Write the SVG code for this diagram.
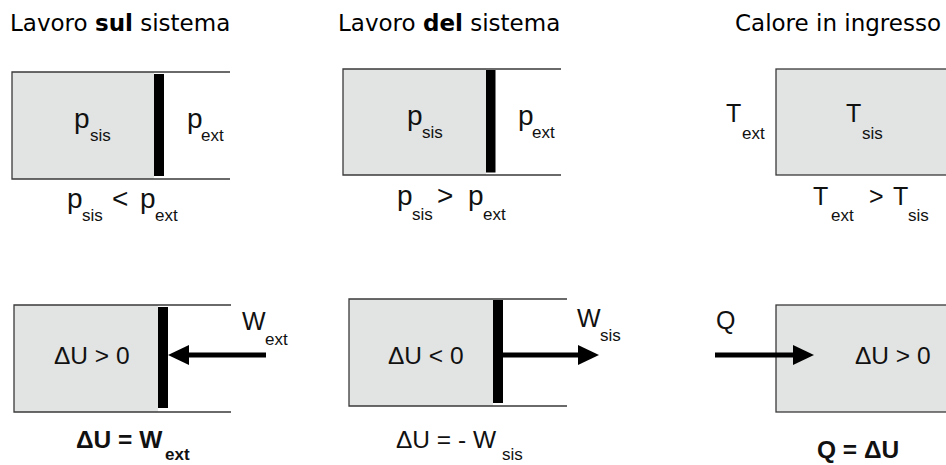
<svg xmlns="http://www.w3.org/2000/svg" width="946" height="465" viewBox="0 0 946 465">
  <style>
    .title { font-family: "Comic Sans MS", "DejaVu Sans", sans-serif; font-size: 23px; fill: #000; }
    .t { font-family: "Liberation Sans", Arial, sans-serif; fill: #111; }
    .big { font-size: 28px; }
    .mid { font-size: 25px; }
    .lab { font-size: 24.5px; }
    .sub { font-size: 17px; }
    .bold { font-weight: bold; }
    .gas { fill: #e2e3e3; stroke: none; }
    .wall { fill: none; stroke: #3a3a3a; stroke-width: 1.3; }
    .piston { fill: #000; }
    .arrow { stroke: #000; stroke-width: 5; fill: none; marker-end: url(#head); }
  </style>
  <defs>
    <marker id="head" markerUnits="userSpaceOnUse" markerWidth="21" markerHeight="21" refX="0" refY="10" orient="auto" viewBox="0 0 21 21">
      <path d="M0,0 L21,10 L0,20 z" fill="#000"/>
    </marker>
  </defs>
  <rect width="946" height="465" fill="#fff"/>

  <!-- headings -->
  <g id="headings">
    <text class="title" x="10" y="31">Lavoro <tspan font-weight="bold">sul</tspan> sistema</text>
    <text class="title" x="338" y="31">Lavoro <tspan font-weight="bold">del</tspan> sistema</text>
    <text class="title" x="735" y="31">Calore in ingresso</text>
  </g>

  <!-- work done on the system: compression -->
  <g id="cyl-compress">
    <rect class="gas" x="12" y="72" width="142" height="107"/>
    <path class="wall" d="M230,72 H12 V179 H230"/>
    <rect class="piston" x="154" y="74" width="10" height="102"/>
    <text class="t big" x="74" y="128">p</text>
    <text class="t sub" x="90" y="141">sis</text>
    <text class="t big" x="187" y="128">p</text>
    <text class="t sub" x="201" y="141">ext</text>
  </g>
  <g id="cond-compress">
    <text class="t big" x="67" y="208">p</text>
    <text class="t sub" x="82" y="221">sis</text>
    <text class="t big" x="112" y="208">&lt;</text>
    <text class="t big" x="140" y="208">p</text>
    <text class="t sub" x="155" y="221">ext</text>
  </g>

  <!-- work done by the system: expansion -->
  <g id="cyl-expand">
    <rect class="gas" x="343" y="69" width="143" height="106"/>
    <path class="wall" d="M561,69 H343 V175 H561"/>
    <rect class="piston" x="486" y="70" width="9.5" height="102.5"/>
    <text class="t big" x="407" y="125">p</text>
    <text class="t sub" x="422" y="138">sis</text>
    <text class="t big" x="518" y="125">p</text>
    <text class="t sub" x="532" y="138">ext</text>
  </g>
  <g id="cond-expand">
    <text class="t big" x="397" y="205">p</text>
    <text class="t sub" x="412" y="220">sis</text>
    <text class="t big" x="437" y="205">&gt;</text>
    <text class="t big" x="468" y="205">p</text>
    <text class="t sub" x="483" y="220">ext</text>
  </g>

  <!-- heat entering the system -->
  <g id="box-heat">
    <rect class="gas" x="776" y="69" width="200" height="106"/>
    <rect class="wall" x="776" y="69" width="200" height="106"/>
    <text class="t mid" x="726" y="122">T</text>
    <text class="t sub" x="742" y="139">ext</text>
    <text class="t mid" x="846" y="122">T</text>
    <text class="t sub" x="862" y="139">sis</text>
  </g>
  <g id="cond-heat">
    <text class="t mid" x="813" y="205">T</text>
    <text class="t sub" x="831" y="221">ext</text>
    <text class="t mid" x="869" y="205">&gt;</text>
    <text class="t mid" x="893" y="205">T</text>
    <text class="t sub" x="908" y="221">sis</text>
  </g>

  <!-- energy balance, compression -->
  <g id="cyl-compress-energy">
    <rect class="gas" x="14" y="305" width="144" height="107"/>
    <path class="wall" d="M231,305 H14 V412 H231"/>
    <rect class="piston" x="158" y="307" width="10" height="101"/>
    <text class="t lab" x="54" y="364">ΔU &gt; 0</text>
    <text class="t mid" x="242" y="330">W</text>
    <text class="t sub" x="265" y="345">ext</text>
  </g>
  <g id="eq-compress">
    <text class="t lab bold" x="76" y="448">ΔU = W</text>
    <text class="t sub bold" x="165" y="460">ext</text>
  </g>

  <!-- energy balance, expansion -->
  <g id="cyl-expand-energy">
    <rect class="gas" x="349" y="299" width="144" height="107"/>
    <path class="wall" d="M567,299 H349 V406 H567"/>
    <rect class="piston" x="493" y="300" width="10" height="103"/>
    <text class="t lab" x="388" y="364">ΔU &lt; 0</text>
    <text class="t mid" x="577" y="327">W</text>
    <text class="t sub" x="600" y="341">sis</text>
  </g>
  <g id="eq-expand">
    <text class="t lab" x="396" y="448">ΔU = - W</text>
    <text class="t sub" x="502" y="460">sis</text>
  </g>

  <!-- energy balance, heating -->
  <g id="box-heat-energy">
    <rect class="gas" x="776" y="305" width="200" height="107"/>
    <rect class="wall" x="776" y="305" width="200" height="107"/>
    <text class="t lab" x="855" y="364">ΔU &gt; 0</text>
    <text class="t mid" x="716" y="329">Q</text>
  </g>
  <g id="eq-heat">
    <text class="t lab bold" x="817" y="458">Q = ΔU</text>
  </g>

  <!-- energy flow arrows -->
  <g id="connectors">
    <line class="arrow" x1="266" y1="355" x2="189" y2="355"/>
    <line class="arrow" x1="503" y1="355" x2="578" y2="355"/>
    <line class="arrow" x1="715" y1="355" x2="793" y2="355"/>
  </g>
</svg>
